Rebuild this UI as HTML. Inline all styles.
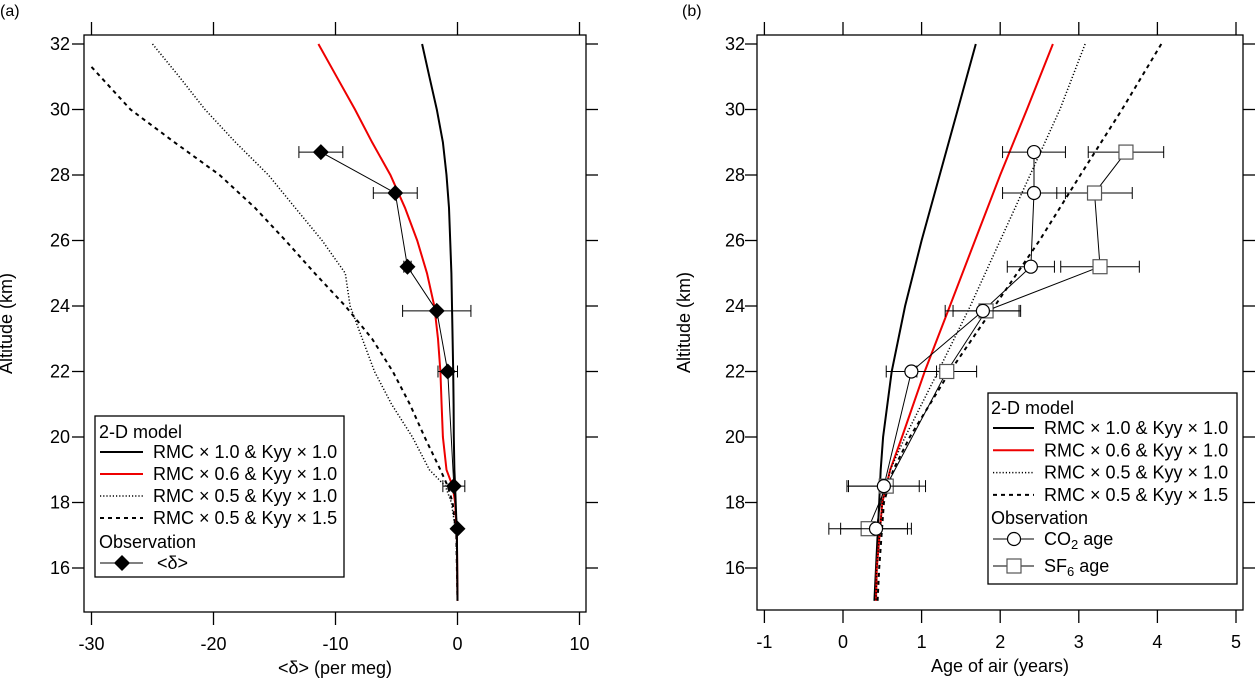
<!DOCTYPE html>
<html><head><meta charset="utf-8"><style>
body{margin:0;background:#fff;}
svg{display:block;font-family:"Liberation Sans",sans-serif;}
</style></head><body>
<svg id="c" width="1256" height="681" viewBox="0 0 1256 681"></svg>
<script>
// ---------- data ----------
const altGrid = [32,31,30,29,28,27,26,25,24,23,22,21,20,19,18.5,18,17,15];
const aBlack  = [-2.9,-2.3,-1.7,-1.2,-0.9,-0.7,-0.6,-0.5,-0.45,-0.4,-0.35,-0.32,-0.3,-0.25,-0.2,-0.15,-0.05,0];
const aRed    = [-11.4,-9.9,-8.4,-7.0,-5.5,-4.3,-3.3,-2.5,-1.9,-1.6,-1.4,-1.3,-1.2,-0.9,-0.4,-0.2,-0.05,0];
const aDot    = [-25,-22.8,-20.7,-18.2,-15.5,-13.3,-11.1,-9.2,-8.8,-7.8,-6.8,-5.4,-3.7,-2.3,-1.0,-0.5,-0.1,0];
const aDashAlt= [31.3,30,29,28,27,26,25,24,23,22,21,20,19,18.5,18,17,15];
const aDash   = [-30,-26.8,-23.2,-19.5,-16.6,-14.1,-11.7,-9.2,-7.0,-5.3,-3.9,-2.7,-1.4,-0.8,-0.4,-0.1,0];
const obsAlt  = [28.7,27.45,25.2,23.85,22.0,18.5,17.2];
const obsD    = [-11.2,-5.1,-4.1,-1.7,-0.8,-0.3,0];
const obsDErr = [1.8,1.8,0.3,2.8,0.8,0.9,0];

const bAlt    = [32,30,28,26,24,22,20,19,18,16,15];
const bBlack  = [1.69,1.46,1.23,1.0,0.79,0.62,0.51,0.48,0.46,0.42,0.40];
const bRed    = [2.67,2.34,2.0,1.68,1.36,1.04,0.75,0.6,0.5,0.43,0.42];
const bDot    = [3.08,2.76,2.38,2.0,1.62,1.21,0.79,0.6,0.5,0.43,0.42];
const bDash   = [4.05,3.55,3.02,2.5,1.93,1.36,0.85,0.64,0.52,0.46,0.44];
const co2Age  = [2.43,2.43,2.39,1.78,0.87,0.52,0.42];
const co2Err  = [0.4,0.4,0.3,0.48,0.32,0.45,0.45];
const sf6Age  = [3.6,3.2,3.27,1.82,1.32,0.55,0.32];
const sf6Err  = [0.48,0.48,0.5,0.42,0.38,0.5,0.5];

const xTicksA = [-30,-20,-10,0,10];
const xTicksB = [-1,0,1,2,3,4,5];
const yTicks  = [16,18,20,22,24,26,28,30,32];

// ---------- helpers ----------
const NS="http://www.w3.org/2000/svg", svg=document.getElementById('c');
function mk(tag,attrs,parent){const e=document.createElementNS(NS,tag);for(const k in attrs)e.setAttribute(k,attrs[k]);(parent||svg).appendChild(e);return e;}
const yS = a => 44 + (32-a)*32.75;
const xA = v => 457.5 + v*12.2;
const xB = v => 843 + v*78.6;
const FS = 18;

function panel(name,left,right,top,bottom,xs,xticks,label,ylabX,tickLabX){
  const g=mk('g',{});
  
  
  const box=mk('rect',{x:left,y:top,width:right-left,height:bottom-top,fill:'none',stroke:'#000','stroke-width':1.3},g);
  
  
  xticks.forEach(t=>{
    const x=xs(t);
    mk('line',{x1:x,x2:x,y1:bottom,y2:bottom+13,stroke:'#000','stroke-width':1.3},g);
    mk('line',{x1:x,x2:x,y1:top-13,y2:top,stroke:'#000','stroke-width':1.3},g);
    const tx=mk('text',{x:x,y:bottom+38,'text-anchor':'middle','font-size':FS},g);
    tx.textContent=t;
    
    
  });
  yTicks.forEach(t=>{
    const y=yS(t);
    mk('line',{x1:left-12,x2:left,y1:y,y2:y,stroke:'#000','stroke-width':1.3},g);
    mk('line',{x1:right,x2:right+12,y1:y,y2:y,stroke:'#000','stroke-width':1.3},g);
    const ty=mk('text',{x:tickLabX,y:y+6,'text-anchor':'end','font-size':FS},g);
    ty.textContent=t;
    
    
  });
  const xt=mk('text',{x:(left+right)/2,y:bottom+62,'text-anchor':'middle','font-size':FS},g);
  xt.textContent=label;
  
  
  const yt=mk('text',{x:ylabX,y:(top+bottom)/2,'text-anchor':'middle','font-size':FS,transform:`rotate(-90 ${ylabX} ${(top+bottom)/2})`},g);
  yt.textContent='Altitude (km)';
  
  
  return g;
}
function series(name,xs,xv,av,stroke,dash,width){
  const d=xv.map((v,i)=>(i?'L':'M')+xs(v).toFixed(1)+','+yS(av[i]).toFixed(1)).join(' ');
  const p=mk('path',{d:d,fill:'none',stroke:stroke,'stroke-width':width,'stroke-dasharray':dash||'none'});
  
  
}
function errbar(xs,v,e,a){
  if(!e)return;
  const y=yS(a),x1=xs(v-e),x2=xs(v+e);
  mk('line',{x1:x1,x2:x2,y1:y,y2:y,stroke:'#000','stroke-width':1});
  mk('line',{x1:x1,x2:x1,y1:y-6,y2:y+6,stroke:'#000','stroke-width':1});
  mk('line',{x1:x2,x2:x2,y1:y-6,y2:y+6,stroke:'#000','stroke-width':1});
}
function txt(x,y,s,size,name){const t=mk('text',{x:x,y:y,'font-size':size||FS});t.innerHTML=s;return t;}

// ---------- panel a ----------
panel('panel-a',84,586,35,612,xA,xTicksA,'<δ> (per meg)',12,70);
txt(0,16,'(a)',16,'panel-a-label');
series('dashed-rmc05-kyy15',xA,aDash,aDashAlt,'#000','4 4',2);
series('dotted-rmc05-kyy10',xA,aDot,altGrid,'#000','1.2 2',1.5);
series('red-rmc06-kyy10',xA,aRed,altGrid,'#e00','none',2);
series('black-rmc10-kyy10',xA,aBlack,altGrid,'#000','none',2);
const obsLine=obsD.map((v,i)=>(i?'L':'M')+xA(v)+','+yS(obsAlt[i])).join(' ');
const ol=mk('path',{d:obsLine,fill:'none',stroke:'#000','stroke-width':1});


obsD.forEach((v,i)=>{
  errbar(xA,v,obsDErr[i],obsAlt[i]);
  const x=xA(v),y=yS(obsAlt[i]);
  const dm=mk('polygon',{points:`${x},${y-8} ${x+8},${y} ${x},${y+8} ${x-8},${y}`,fill:'#000'});
  
  
});
// legend a
const la=mk('rect',{x:95,y:416,width:249,height:161,fill:'#fff',stroke:'#000','stroke-width':1.3});


txt(99,438,'2-D model',FS,'legend-heading');
[['#000','none',2,'RMC × 1.0 &amp; Kyy × 1.0'],['#e00','none',2,'RMC × 0.6 &amp; Kyy × 1.0'],['#000','1.2 2',1.5,'RMC × 0.5 &amp; Kyy × 1.0'],['#000','4 4',2,'RMC × 0.5 &amp; Kyy × 1.5']].forEach((r,i)=>{
  const y=452+i*22;
  mk('line',{x1:100,x2:143,y1:y,y2:y,stroke:r[0],'stroke-width':r[2],'stroke-dasharray':r[1]});
  txt(153,y+6,r[3],FS,'legend-entry');
});
txt(99,548,'Observation',FS,'legend-heading');
mk('line',{x1:100,x2:143,y1:563,y2:563,stroke:'#000','stroke-width':1});
mk('polygon',{points:'122,555 130,563 122,571 114,563',fill:'#000'});
txt(157,569,'&lt;δ&gt;',FS,'legend-entry');

// ---------- panel b ----------
panel('panel-b',757,1243,35,610,xB,xTicksB,'Age of air (years)',690,745);
txt(682,16,'(b)',16,'panel-b-label');
series('black-rmc10-kyy10-b',xB,bBlack,bAlt,'#000','none',2);
series('red-rmc06-kyy10-b',xB,bRed,bAlt,'#e00','none',2);
series('dotted-rmc05-kyy10-b',xB,bDot,bAlt,'#000','1.2 2',1.5);
series('dashed-rmc05-kyy15-b',xB,bDash,bAlt,'#000','4 4',2);
[[co2Age,'co2'],[sf6Age,'sf6']].forEach(s=>{
  const d=s[0].map((v,i)=>(i?'L':'M')+xB(v)+','+yS(obsAlt[i])).join(' ');
  const p=mk('path',{d:d,fill:'none',stroke:'#000','stroke-width':1});
  
  
});
sf6Age.forEach((v,i)=>{
  errbar(xB,v,sf6Err[i],obsAlt[i]);
  const r=mk('rect',{x:xB(v)-7,y:yS(obsAlt[i])-7,width:14,height:14,fill:'#fff',stroke:'#555','stroke-width':1.2});
  
  
});
co2Age.forEach((v,i)=>{
  errbar(xB,v,co2Err[i],obsAlt[i]);
  const c=mk('circle',{cx:xB(v),cy:yS(obsAlt[i]),r:6.5,fill:'#fff',stroke:'#000','stroke-width':1.2});
  
  
});
// legend b
const lb=mk('rect',{x:988,y:393,width:249,height:191,fill:'#fff',stroke:'#000','stroke-width':1.3});


txt(991,414,'2-D model',FS,'legend-heading');
[['#000','none',2,'RMC × 1.0 &amp; Kyy × 1.0'],['#e00','none',2,'RMC × 0.6 &amp; Kyy × 1.0'],['#000','1.2 2',1.5,'RMC × 0.5 &amp; Kyy × 1.0'],['#000','4 4',2,'RMC × 0.5 &amp; Kyy × 1.5']].forEach((r,i)=>{
  const y=428+i*22.3;
  mk('line',{x1:993,x2:1034,y1:y,y2:y,stroke:r[0],'stroke-width':r[2],'stroke-dasharray':r[1]});
  txt(1044,y+6,r[3],FS,'legend-entry');
});
txt(991,524,'Observation',FS,'legend-heading');
mk('line',{x1:993,x2:1034,y1:539,y2:539,stroke:'#000','stroke-width':1});
mk('circle',{cx:1014,cy:539,r:6.5,fill:'#fff',stroke:'#000','stroke-width':1.2});
txt(1044,545,'CO<tspan font-size="13" dy="4">2</tspan><tspan dy="-4"> age</tspan>',FS,'legend-entry');
mk('line',{x1:993,x2:1034,y1:566,y2:566,stroke:'#000','stroke-width':1});
mk('rect',{x:1007,y:559,width:14,height:14,fill:'#fff',stroke:'#555','stroke-width':1.2});
txt(1044,572,'SF<tspan font-size="13" dy="4">6</tspan><tspan dy="-4"> age</tspan>',FS,'legend-entry');
</script>
</body></html>
